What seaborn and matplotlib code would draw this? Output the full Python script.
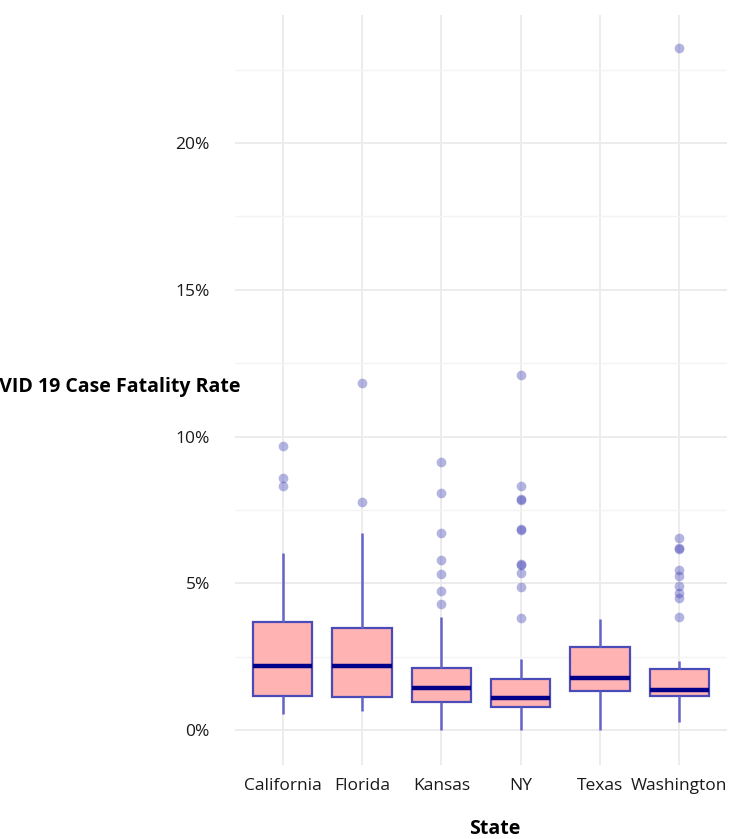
import numpy as np
import pandas as pd
import matplotlib
matplotlib.use('agg')
import matplotlib.pyplot as plt
import seaborn as sns
from matplotlib.ticker import FuncFormatter, MultipleLocator


states = ["California", "Florida", "Kansas", "NY", "Texas", "Washington"]

# box summaries, in percent
whisker_low = [0.55, 0.65, 0.00, 0.00, 0.00, 0.28]
q1 = [1.16, 1.13, 0.94, 0.77, 1.34, 1.16]
median = [2.18, 2.19, 1.45, 1.09, 1.79, 1.36]
q3 = [3.69, 3.49, 2.13, 1.73, 2.83, 2.07]
whisker_high = [6.04, 6.70, 3.86, 2.41, 3.80, 2.35]

# outlying counties per state, in percent
ca_outliers = [8.30, 8.59, 9.68]
fl_outliers = [7.78, 11.82]
ks_outliers = [4.29, 4.75, 5.31, 5.79, 6.72, 8.07, 9.13]
ny_outliers = [3.83, 4.86, 5.34, 5.62, 5.65, 6.82, 6.86, 7.84, 7.88, 8.31, 12.10]
tx_outliers = []
wa_outliers = [3.84, 4.49, 4.66, 4.91, 5.25, 5.47, 6.17, 6.21, 6.56, 23.24]
outlier_lists = [ca_outliers, fl_outliers, ks_outliers, ny_outliers, tx_outliers, wa_outliers]


def build_frame():
    """ long table whose quartiles / whiskers reproduce the summaries above """
    rows = []
    for i, st in enumerate(states):
        out = outlier_lists[i]
        r = 2 * len(out) + 4
        vals = [whisker_low[i]] + [q1[i]] * r + [median[i]] * r + [q3[i]] * r + [whisker_high[i]] + out
        rows += [(st, v) for v in vals]
    return pd.DataFrame(rows, columns=["State", "CFR"])


df = build_frame()

sns.set_theme(style="white")
plt.rcParams['font.family'] = ['Open Sans', 'DejaVu Sans']

fig = plt.figure(figsize=(7.37, 8.39), dpi=100)
ax = fig.add_axes([235 / 737, 1 - 765 / 839, 492 / 737, 750 / 839])

sns.boxplot(data=df, x="State", y="CFR", order=states, width=0.75, ax=ax,
            showcaps=False,
            boxprops=dict(facecolor="#ffb3b3", edgecolor="#4b4bb8", linewidth=1.6),
            medianprops=dict(color="#00008b", linewidth=3.2),
            whiskerprops=dict(color="#6464c8", linewidth=1.8),
            flierprops=dict(marker='o', markerfacecolor="#3c3cb4", markeredgecolor="none",
                            markersize=7, alpha=0.38))

ax.set_ylim(-1.19, 24.36)
ax.set_xlim(-0.6, 5.6)
ax.yaxis.set_major_locator(MultipleLocator(5))
ax.yaxis.set_minor_locator(MultipleLocator(2.5))
ax.yaxis.set_major_formatter(FuncFormatter(lambda v, p: "%d%%" % v))
ax.grid(True, which='major', axis='both', color="#ebebeb", linewidth=1.3)
ax.grid(True, which='minor', axis='y', color="#f4f4f4", linewidth=1.0)
ax.set_axisbelow(True)
for s in ax.spines.values():
    s.set_visible(False)
ax.tick_params(axis='both', which='both', length=0, labelsize=12.5, colors="#1a1a1a")
ax.tick_params(axis='y', pad=18)
ax.tick_params(axis='x', pad=9)

ax.set_xlabel("State", fontsize=14, weight='bold', color="black", va='center')
ax.xaxis.set_label_coords((495 - 235) / 492, -(829 - 765) / 750)
ax.set_ylabel("COVID 19 Case Fatality Rate", fontsize=14, weight='bold', color="black",
              rotation=0, ha='right', va='center')
ax.yaxis.set_label_coords((241 - 235) / 492, (765 - 387) / 750)

fig.savefig("out.png", dpi=100)
